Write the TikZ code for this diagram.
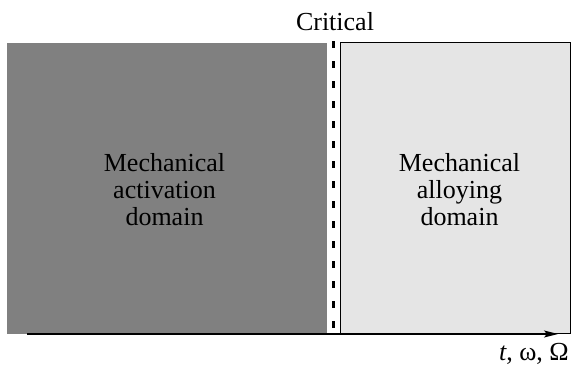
\documentclass[tikz,border=0pt]{standalone}
\usepackage{fontspec}
\setmainfont{Liberation Serif}
\usetikzlibrary{arrows.meta}
\begin{document}
\begin{tikzpicture}[x=1pt,y=1pt,
  lbl/.style={font=\fontsize{26}{27}\selectfont, align=center, inner sep=0pt},
  darkbox/.style={fill=black!50, draw=none},
  lightbox/.style={fill=black!10, draw=black, line width=1pt},
  critline/.style={line width=3pt, dash pattern=on 7pt off 13pt},
  axis/.style={line width=1.5pt, -{Stealth[length=14pt,width=7pt,inset=3pt]}}]
\useasboundingbox (0,0) rectangle (571,-367);
\path[darkbox] (7,-43) rectangle (326.5,-334);
\path[lightbox] (340,-42.5) rectangle (570,-333.5);
\coordinate (ctop) at (333,-41);
\coordinate (cbot) at (333,-331);
\draw[critline] (ctop) -- (cbot);
\coordinate (ax0) at (27,-334);
\coordinate (ax1) at (558,-334);
\draw[axis] (ax0) -- (ax1);
\node[lbl, anchor=base] (crit) at (335,-30) {Critical};
\node[lbl] (act) at (164.5,-190) {Mechanical\\activation\\domain};
\node[lbl] (all) at (459.5,-190) {Mechanical\\alloying\\domain};
\node[lbl, anchor=base east] (ax) at (569,-360) {\textit{t}, ω, Ω};
\end{tikzpicture}
\end{document}
